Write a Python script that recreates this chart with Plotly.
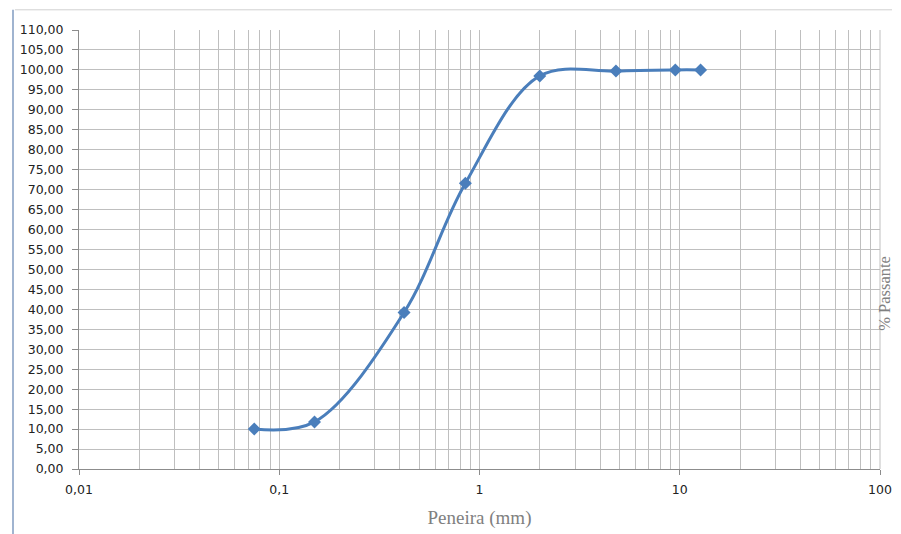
import plotly.graph_objects as go

peneira_mm = [0.075, 0.15, 0.42, 0.85, 2.0, 4.8, 9.5, 12.7]
passante = [10.0, 11.8, 39.2, 71.6, 98.5, 99.7, 100.0, 100.0]

x_tick_vals = [0.01, 0.1, 1, 10, 100]
x_tick_text = ["0,01", "0,1", "1", "10", "100"]
y_tick_vals = list(range(0, 111, 5))

fig = go.Figure()
fig.add_trace(go.Scatter(
    x=peneira_mm, y=passante, mode="lines+markers",
    line=dict(color="#4A7EBB", width=3, shape="spline", smoothing=1.0),
    marker=dict(symbol="diamond", size=10, color="#4A7EBB"),
    showlegend=False,
))

fig.update_layout(
    width=885, height=526,
    margin=dict(l=71, r=13, t=22, b=65, autoexpand=False),
    paper_bgcolor="white", plot_bgcolor="white",
    separators=",.",
    font=dict(family="DejaVu Sans, Verdana, sans-serif", size=12.5, color="#222222"),
    xaxis=dict(
        type="log", range=[-2, 2],
        tickvals=x_tick_vals, ticktext=x_tick_text,
        showgrid=True, gridcolor="#BFBFBF", gridwidth=1,
        minor=dict(dtick="D1", showgrid=True, gridcolor="#BFBFBF", gridwidth=1, ticks=""),
        showline=True, linecolor="#8C8C8C", linewidth=1,
        ticks="outside", ticklen=5, tickcolor="#8C8C8C",
        zeroline=False, mirror=False, automargin=False,
        ticklabelstandoff=4,
        title=dict(text="Peneira (mm)", font=dict(family="Liberation Serif, serif", size=19, color="#808080"), standoff=14),
    ),
    yaxis=dict(
        range=[0, 110], tickvals=y_tick_vals, tickformat=".2f",
        showgrid=True, gridcolor="#BFBFBF", gridwidth=1,
        showline=True, linecolor="#8C8C8C", linewidth=1,
        ticks="outside", ticklen=6, tickcolor="#8C8C8C",
        zeroline=False, automargin=False,
        ticklabelstandoff=6,
    ),
    annotations=[dict(
        text="% Passante", xref="paper", yref="paper", x=1.0055, y=0.40,
        xanchor="center", yanchor="middle", textangle=-90, showarrow=False,
        font=dict(family="Liberation Serif, serif", size=16.5, color="#808080"),
    )],
    shapes=[
        dict(type="line", xref="paper", yref="paper", x0=1, x1=1, y0=0, y1=1,
             line=dict(color="#BFBFBF", width=1)),
        dict(type="line", xref="paper", yref="paper", x0=-0.0824, x1=-0.0824, y0=-0.16, y1=1.046,
             line=dict(color="#A0B4D0", width=2)),
        dict(type="line", xref="paper", yref="paper", x0=-0.08, x1=1.015, y0=1.046, y1=1.046,
             line=dict(color="#D0D0D0", width=1)),
    ],
)

fig.write_html("out.html")
